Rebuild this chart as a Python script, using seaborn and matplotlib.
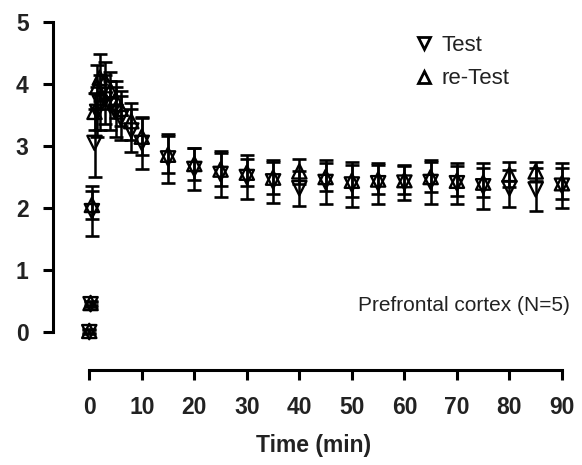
import matplotlib
matplotlib.use("Agg")
import matplotlib.pyplot as plt
import seaborn as sns
import pandas as pd
from matplotlib.lines import Line2D

time_min = [0, 0.25, 0.5, 1, 1.5, 2, 3, 4, 5, 6, 8, 10, 15, 20, 25, 30, 35, 40,
            45, 50, 55, 60, 65, 70, 75, 80, 85, 90]
test_mean = [0.0, 0.45, 1.95, 3.05, 3.55, 3.70, 3.75, 3.65, 3.55, 3.45, 3.25, 3.05,
             2.80, 2.63, 2.55, 2.50, 2.43, 2.32, 2.42, 2.38, 2.40, 2.41, 2.42, 2.40,
             2.35, 2.32, 2.30, 2.36]
test_sem = [0.03, 0.04, 0.40, 0.55, 0.40, 0.45, 0.40, 0.40, 0.40, 0.35, 0.35, 0.42,
            0.39, 0.34, 0.37, 0.35, 0.35, 0.28, 0.35, 0.37, 0.33, 0.28, 0.35, 0.33,
            0.37, 0.30, 0.35, 0.36]
retest_mean = [0.02, 0.47, 2.05, 3.55, 3.95, 4.10, 4.05, 3.90, 3.75, 3.60, 3.40, 3.15,
               2.86, 2.71, 2.62, 2.57, 2.49, 2.59, 2.50, 2.44, 2.46, 2.45, 2.50, 2.44,
               2.41, 2.54, 2.59, 2.40]
retest_sem = [0.03, 0.04, 0.22, 0.30, 0.35, 0.38, 0.30, 0.30, 0.30, 0.28, 0.30, 0.30,
              0.30, 0.26, 0.27, 0.22, 0.26, 0.20, 0.23, 0.26, 0.23, 0.23, 0.24, 0.24,
              0.24, 0.20, 0.15, 0.25]
x_ticks = [0, 10, 20, 30, 40, 50, 60, 70, 80, 90]
y_ticks = [0, 1, 2, 3, 4, 5]
series_names = ["Test", "re-Test"]

df = pd.DataFrame({
    "time": time_min * 2,
    "value": test_mean + retest_mean,
    "sem": test_sem + retest_sem,
    "group": [series_names[0]] * len(time_min) + [series_names[1]] * len(time_min),
})

sns.set_theme(style="ticks")
plt.rcParams["font.family"] = ["Liberation Sans", "DejaVu Sans"]

fig = plt.figure(figsize=(5.82, 4.65), dpi=100)
ax = fig.add_axes([0.0911, 0.2043, 0.897, 0.774])

for name in series_names:
    sub = df[df["group"] == name]
    ax.errorbar(sub["time"], sub["value"], yerr=sub["sem"], fmt="none",
                ecolor="black", elinewidth=1.8, capsize=4.8, capthick=1.9, zorder=2)

sns.scatterplot(data=df, x="time", y="value", style="group",
                markers={"Test": "v", "re-Test": "^"}, s=105,
                facecolor="none", edgecolor="black", linewidth=1.7,
                legend=False, ax=ax, zorder=3)

ax.set_xlim(-6.9, 92.5)
ax.set_ylim(-0.61, 5.19)
ax.set_xticks(x_ticks)
ax.set_yticks(y_ticks)
ax.spines["top"].set_visible(False)
ax.spines["right"].set_visible(False)
ax.spines["left"].set_bounds(0, 5)
ax.spines["bottom"].set_bounds(0, 90)
for sp in ("left", "bottom"):
    ax.spines[sp].set_linewidth(2.2)
    ax.spines[sp].set_color("black")
ax.tick_params(axis="both", width=2.2, length=7.5, color="black",
               labelsize=16.5, labelcolor="#222222")
ax.tick_params(axis="y", pad=10)
ax.tick_params(axis="x", pad=11)
for lab in ax.get_xticklabels() + ax.get_yticklabels():
    lab.set_fontweight("bold")

ax.set_xlabel("Time (min)", fontsize=16.5, fontweight="bold", color="#222222", labelpad=11)
ax.set_ylabel("")

handles = [Line2D([], [], marker="v", linestyle="none", markerfacecolor="none",
                  markeredgecolor="black", markeredgewidth=2.0, markersize=8),
           Line2D([], [], marker="^", linestyle="none", markerfacecolor="none",
                  markeredgecolor="black", markeredgewidth=2.0, markersize=8)]
ax.legend(handles, series_names, loc="upper left", bbox_to_anchor=(0.672, 0.955),
          frameon=False, fontsize=16, handletextpad=0.3, labelspacing=0.55,
          handlelength=1.0, labelcolor="#222222", borderaxespad=0.0)

ax.text(0.99, 0.18, "Prefrontal cortex (N=5)", transform=ax.transAxes,
        ha="right", va="center", fontsize=15, color="#222222")

fig.savefig("out.png", dpi=100)
